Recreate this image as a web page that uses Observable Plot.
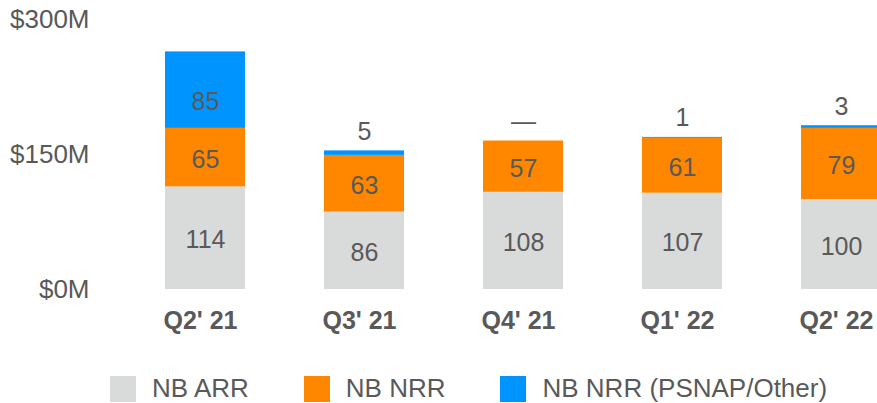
<!DOCTYPE html>
<html><head><meta charset="utf-8">
<script src="https://cdn.jsdelivr.net/npm/d3@7"></script>
<script src="https://cdn.jsdelivr.net/npm/@observablehq/plot@0.6"></script>
<style>
html,body{margin:0;padding:0;background:#fff;overflow:hidden;}
#chart{width:877px;height:403px;overflow:hidden;position:relative;}
#chart svg{display:block;}
.lg-swatches{font-family:'Liberation Sans',Arial,sans-serif !important;font-size:26px !important;color:#595959 !important;margin:28px 0 0 110px !important;min-height:28px !important;flex-wrap:nowrap !important;white-space:nowrap !important;width:760px;}
.lg-swatch{margin-right:55px !important;flex:none !important;}
.lg-swatch:last-child{margin-right:0 !important;}
.lg-swatch > svg{margin-right:16px !important;}
</style></head><body><div id="chart"></div>
<script>
const quarters = ["Q2' 21","Q3' 21","Q4' 21","Q1' 22","Q2' 22"];
const series = ["NB ARR","NB NRR","NB NRR (PSNAP/Other)"];
const nbArr = [114,86,108,107,100];
const nbNrr = [65,63,57,61,79];
const nbPsnap = [85,5,0,1,3];
const psnapLabels = ["85","5","—","1","3"];
const yTicks = [0,150,300];
const colors = ["#d9dbdb","#ff8700","#0094ff"];

const rows = [];
quarters.forEach((q,i) => {
  rows.push({quarter:q, series:series[0], value:nbArr[i], label:String(nbArr[i]), inside:true});
  rows.push({quarter:q, series:series[1], value:nbNrr[i], label:String(nbNrr[i]), inside:true});
  rows.push({quarter:q, series:series[2], value:nbPsnap[i], label:psnapLabels[i], inside:nbPsnap[i] >= 20});
});

const txt = "#595959";
const plot = Plot.plot({
  width: 877, height: 345,
  marginTop: 19, marginBottom: 56, marginLeft: 100, marginRight: 0,
  style: {fontFamily:"'Liberation Sans', Arial, sans-serif", color:txt, background:"#fff", overflow:"hidden"},
  x: {type:"band", domain:quarters, range:[84,961], paddingInner:0.5, paddingOuter:0.5, align:0.5, label:null},
  y: {domain:[0,300], label:null},
  color: {domain:series, range:colors},
  marks: [
    Plot.barY(rows, {x:"quarter", y:"value", fill:"series"}),
    Plot.text(rows, Plot.stackY({x:"quarter", y:"value", z:"series", text: d => (d.inside && d.series !== series[2]) ? d.label : null, dy:2, fill:txt, fontSize:25})),
    Plot.text(rows, Plot.stackY({x:"quarter", y:"value", z:"series", text: d => (d.inside && d.series === series[2]) ? d.label : null, dy:12, fill:txt, fontSize:25})),
    Plot.text(rows, Plot.stackY2({x:"quarter", y:"value", z:"series", text: d => (d.series === series[2] && !d.inside) ? d.label : null, dy:-19, fill:txt, fontSize:25})),
    Plot.axisY({ticks:yTicks, tickFormat: d => `$${d}M`, tickSize:0, tickPadding:11, fontSize:26, color:txt, label:null}),
    Plot.axisX({tickSize:0, tickPadding:22, dx:-5, fontSize:25, fontWeight:"bold", color:txt, label:null})
  ]
});
const chart = document.getElementById("chart");
chart.appendChild(plot);
const legend = Plot.legend({color:{domain:series, range:colors}, className:"lg", swatchSize:26});
chart.appendChild(legend);
</script></body></html>
